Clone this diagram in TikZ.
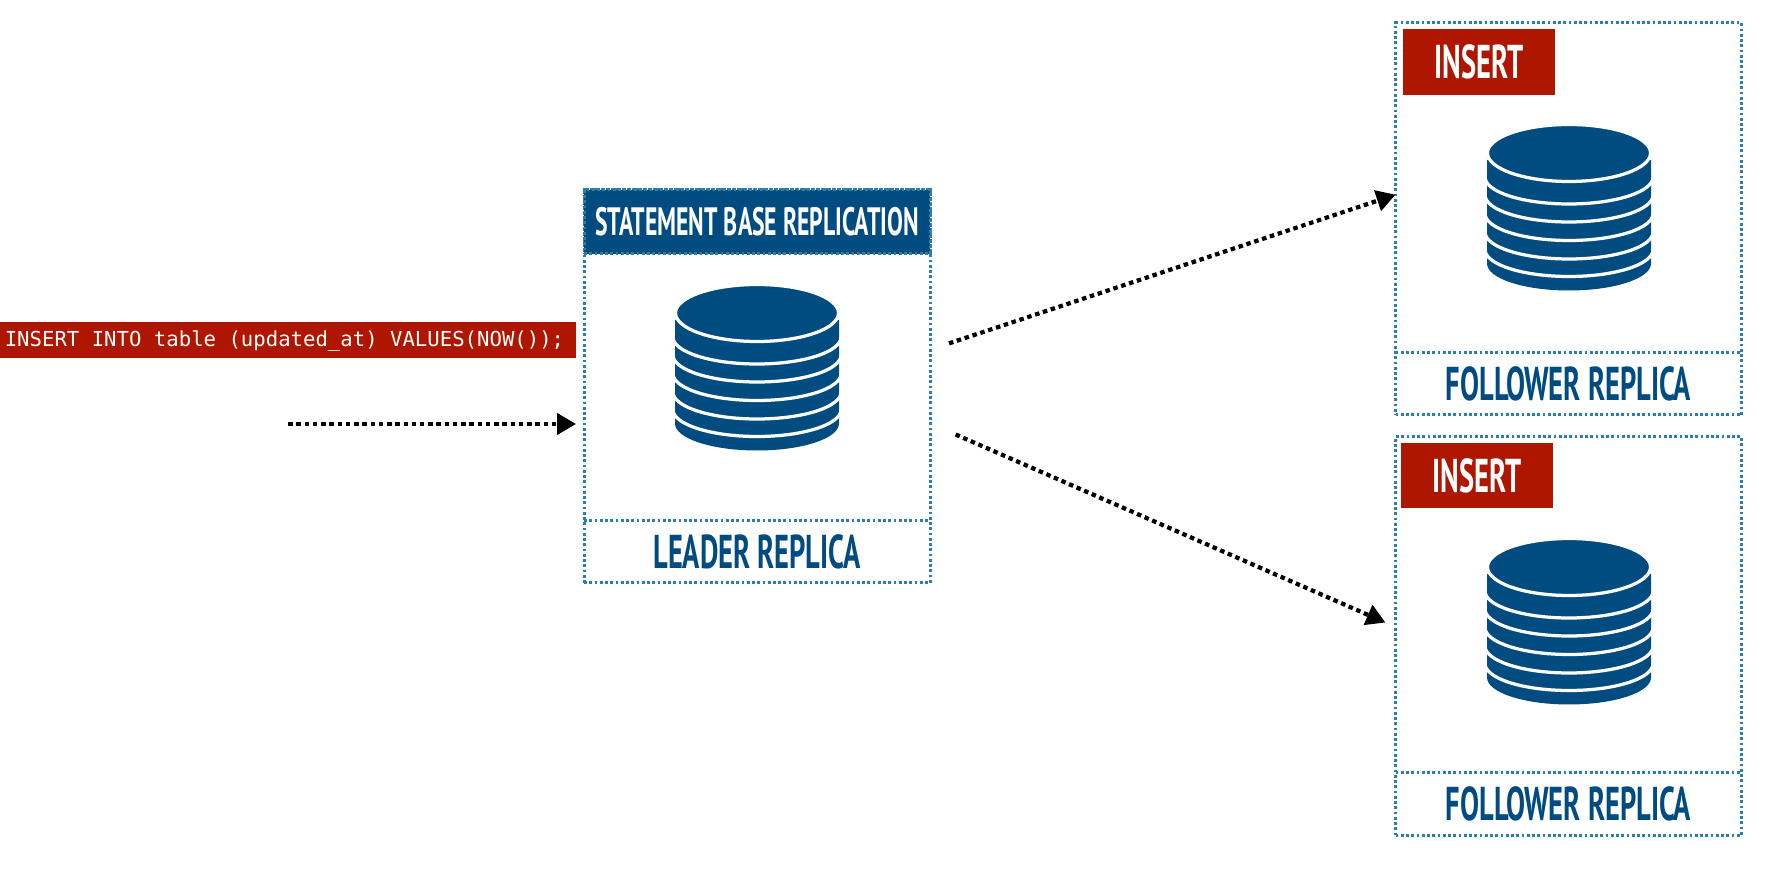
\documentclass[tikz,border=0pt]{standalone}
\usepackage{xcolor}
\usepackage{fontspec}
\usepackage{tikz}
\usetikzlibrary{arrows.meta}
\newfontfamily\dinfont[FakeStretch=0.6]{PT Sans}
\newfontfamily\codefont{DejaVu Sans Mono}
\definecolor{dbblue}{HTML}{004B80}
\definecolor{dotblue}{HTML}{2A7FAB}
\definecolor{sqlred}{HTML}{AE1600}

\begin{document}
\begin{tikzpicture}[
        replica/.style={draw=dotblue, line width=0.06cm, dash pattern=on 0.055cm off 0.05cm, outer sep=0pt, minimum width=6.92cm, inner sep=0pt},
        divider/.style={dotblue, line width=0.06cm, dash pattern=on 0.055cm off 0.05cm},
        header/.style={replica, fill=dbblue, minimum height=1.28cm, text=white, font=\dinfont\fontsize{22.5pt}{24pt}\selectfont\bfseries},
        footer/.style={minimum width=6.92cm, minimum height=1.25cm, inner sep=0pt, outer sep=0pt, text=dbblue, font=\dinfont\fontsize{27pt}{29pt}\selectfont\bfseries},
        insertbox/.style={fill=sqlred, minimum width=3.04cm, minimum height=1.31cm, inner sep=0pt, outer sep=0pt, text=white, font=\dinfont\fontsize{27pt}{29pt}\selectfont\bfseries},
        sqlbar/.style={fill=sqlred, minimum width=11.52cm, minimum height=0.72cm, inner sep=0pt, outer sep=0pt, text=white, text height=0.42cm, text depth=0.14cm, font=\codefont\fontsize{11.75pt}{13pt}\selectfont},
        flow/.style={-{Triangle[length=0.38cm, width=0.42cm]}, line width=0.085cm, dash pattern=on 0.09cm off 0.075cm, black},
        dbstack/.pic={
            \fill[dbblue] (-1.64,-0.14) -- (-1.64,-2.21) arc[start angle=180, end angle=360, x radius=1.64, y radius=0.54] -- (1.64,-0.14) -- cycle;
            \foreach \dy in {-0.48,-0.84,-1.21,-1.58,-1.93}
                \draw[white, line width=0.065cm] (-1.68,\dy) arc[start angle=180, end angle=360, x radius=1.68, y radius=0.54];
            \draw[white, fill=dbblue, line width=0.065cm] (0,0) ellipse[x radius=1.63, y radius=0.57];
        }
    ]
        \useasboundingbox (0,0) rectangle (35.42,17.52);
        \fill[white] (0,0) rectangle (35.42,17.52);

        \node[sqlbar] (sql) at (5.76,10.72) {INSERT INTO table (updated\_at) VALUES(NOW());\kern0.14cm\relax};
        \coordinate (client) at (5.76,9.04);

        \node[replica, minimum height=7.86cm] (leader) at (15.14,9.79) {};
        \node[header] (leaderhead) at (15.14,13.08) {STATEMENT BASE REPLICATION};
        \node[footer] (leaderfoot) at (15.14,6.48) {LEADER REPLICA};
        \pic at (15.14,11.26) {dbstack};

        \node[replica, minimum height=7.84cm] (followera) at (31.37,13.14) {};
        \node[footer] (followerafoot) at (31.37,9.85) {FOLLOWER REPLICA};
        \node[insertbox] (inserta) at (29.58,16.28) {INSERT};
        \pic at (31.38,14.46) {dbstack};

        \node[replica, minimum height=7.96cm] (followerb) at (31.37,4.80) {};
        \node[footer] (followerbfoot) at (31.37,1.44) {FOLLOWER REPLICA};
        \node[insertbox] (insertb) at (29.54,8.01) {INSERT};
        \pic at (31.38,6.18) {dbstack};

        \draw[divider] (leaderfoot.north west) -- (leaderfoot.north east);
        \draw[divider] (followerafoot.north west) -- (followerafoot.north east);
        \draw[divider] (followerbfoot.north west) -- (followerbfoot.north east);

        \draw[flow, shorten >=0.16cm] (client) -- (client -| leader.west);
        \draw[flow, shorten <=0.4cm] (leader.12.2) -- (followera.172.4);
        \draw[flow, shorten <=0.56cm, shorten >=0.22cm] (leader.-12.4) -- (followerb.177.8);
    \end{tikzpicture}
\end{document}
